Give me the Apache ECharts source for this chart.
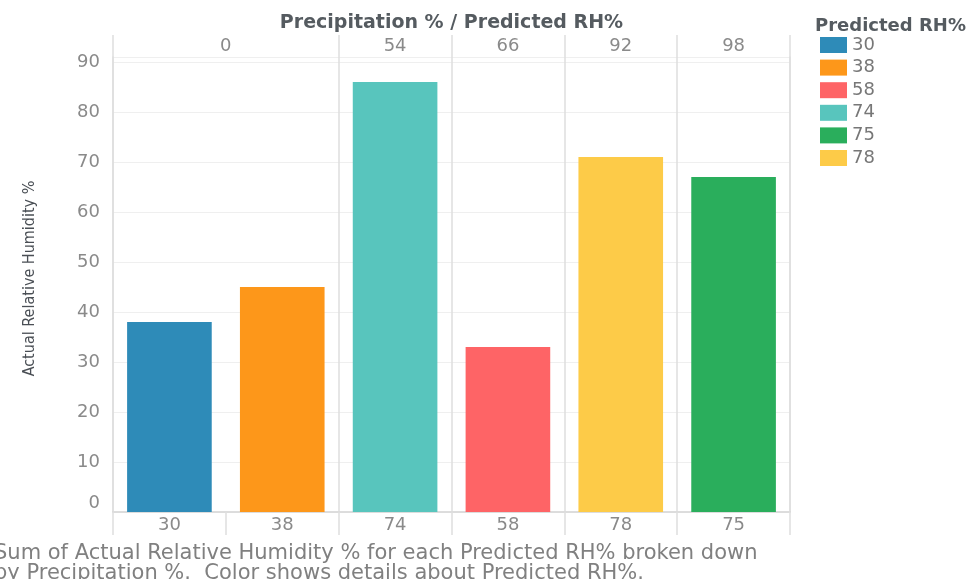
<!DOCTYPE html>
<html>
<head>
<meta charset="utf-8">
<script src="https://cdn.jsdelivr.net/npm/echarts@6/dist/echarts.min.js"></script>
<style>
  html, body { margin: 0; padding: 0; background: #fff; }
  #chart { width: 971px; height: 579px; }
</style>
</head>
<body>
<div id="chart"></div>
<script>
// Bars in draw order: predicted RH% (x categories), their precipitation group, and the actual RH%
const predictedRH = ['30', '38', '74', '58', '78', '75'];
const precipitation = ['0', '0', '54', '66', '92', '98'];
const actualRH = [38, 45, 86, 33, 71, 67];
// Legend order (sorted predicted RH%)
const legendRH = ['30', '38', '58', '74', '75', '78'];
// Y axis ticks
const yTicks = [0, 10, 20, 30, 40, 50, 60, 70, 80, 90];

const palette = {
  '30': '#2e8bb8',
  '38': '#fd971a',
  '58': '#fe6466',
  '74': '#58c5bd',
  '75': '#2aae5c',
  '78': '#fdcb48'
};

const FONT = 'DejaVu Sans, Verdana, sans-serif';
const GRID_LINE = '#dedede';
const LIGHT_LINE = '#efefef';
const LABEL_GRAY = '#8a8a8a';
const TITLE_GRAY = '#555b60';

// Group the bars by precipitation: label centres in category units and inner breaks
const groups = [];
precipitation.forEach(function (p, i) {
  const last = groups[groups.length - 1];
  if (last && last.label === p) { last.end = i + 1; }
  else { groups.push({ label: p, start: i, end: i + 1 }); }
});
const groupCentres = groups.map(g => (g.start + g.end) / 2);
const groupInnerBreaks = [];
groups.forEach(g => { for (let k = g.start + 1; k < g.end; k++) groupInnerBreaks.push(k); });
const isGroupEdge = function (index) { return groupInnerBreaks.indexOf(index) < 0; };

const series = legendRH.map(function (rh) {
  return {
    name: rh,
    type: 'bar',
    stack: 'bars',
    barCategoryGap: '25%',
    itemStyle: { color: palette[rh] },
    data: predictedRH.map((c, i) => (c === rh ? actualRH[i] : '-'))
  };
});

const chart = echarts.init(document.getElementById('chart'), null, { renderer: 'canvas' });
chart.setOption({
  animation: false,
  backgroundColor: '#ffffff',
  textStyle: { fontFamily: FONT },
  title: [
    {
      text: 'Predicted RH%',
      left: 810,
      top: 12,
      textStyle: { fontFamily: FONT, fontSize: 18, fontWeight: 'bold', color: TITLE_GRAY }
    },
    {
      text: 'Sum of Actual Relative Humidity % for each Predicted RH% broken down\nby Precipitation %.  Color shows details about Predicted RH%.',
      left: -6,
      top: 544,
      padding: 0,
      textStyle: { fontFamily: FONT, fontSize: 21, fontWeight: 'normal', color: '#808080', lineHeight: 20 }
    }
  ],
  legend: {
    data: legendRH,
    orient: 'vertical',
    left: 815,
    top: 31,
    icon: 'rect',
    itemWidth: 27,
    itemHeight: 16,
    itemGap: 4.6,
    textStyle: { fontFamily: FONT, fontSize: 18, color: '#777' },
    selectedMode: false
  },
  grid: { left: 113, right: 181, top: 57, bottom: 67, containLabel: false },
  xAxis: [
    {
      type: 'category',
      data: predictedRH,
      position: 'bottom',
      axisLine: { show: true, lineStyle: { color: '#d0d0d0', width: 1.5 } },
      axisTick: { show: true, length: 23, lineStyle: { color: GRID_LINE, width: 1.5 } },
      axisLabel: { fontFamily: FONT, fontSize: 18, color: LABEL_GRAY, margin: 4 },
      splitLine: { show: true, interval: isGroupEdge, lineStyle: { color: GRID_LINE, width: 1.5 } }
    },
    {
      // precipitation header: group labels centred over their bars
      type: 'value',
      position: 'top',
      min: 0,
      max: predictedRH.length,
      name: 'Precipitation % / Predicted RH%',
      nameLocation: 'middle',
      nameGap: 24,
      nameTextStyle: { fontFamily: FONT, fontSize: 19, fontWeight: 'bold', color: TITLE_GRAY },
      axisLine: { show: true, lineStyle: { color: GRID_LINE, width: 1.5 } },
      axisTick: { show: false },
      axisLabel: {
        show: true,
        customValues: groupCentres,
        margin: 2,
        fontFamily: FONT,
        fontSize: 18,
        color: LABEL_GRAY,
        formatter: function (v) {
          const idx = groupCentres.indexOf(v);
          return idx >= 0 ? groups[idx].label : '';
        }
      },
      splitLine: { show: false }
    },
    {
      // header separators between precipitation groups
      type: 'category',
      data: predictedRH,
      position: 'top',
      axisLine: { show: false },
      axisTick: { show: true, length: 22, interval: isGroupEdge, lineStyle: { color: GRID_LINE, width: 1.5 } },
      axisLabel: { show: false },
      splitLine: { show: false }
    }
  ],
  yAxis: [
    {
      type: 'value',
      min: 0,
      max: 91,
      interval: 10,
      name: 'Actual Relative Humidity %',
      nameLocation: 'middle',
      nameRotate: 90,
      nameGap: 75,
      nameTextStyle: { fontFamily: 'Liberation Sans Narrow, DejaVu Sans Condensed, sans-serif', fontSize: 16, color: '#4a4f55', padding: [0, 0, 0, 12] },
      axisLine: { show: true, lineStyle: { color: GRID_LINE, width: 1.5 } },
      axisTick: { show: false },
      axisLabel: {
        fontFamily: FONT,
        fontSize: 18,
        color: LABEL_GRAY,
        margin: 13,
        showMaxLabel: false,
        verticalAlignMinLabel: 'bottom',
        formatter: function (v) { return yTicks.indexOf(v) >= 0 ? String(v) : ''; }
      },
      splitLine: { show: true, lineStyle: { color: LIGHT_LINE, width: 1 } }
    },
    {
      type: 'value',
      position: 'right',
      min: 0,
      max: 91,
      axisLine: { show: true, lineStyle: { color: GRID_LINE, width: 1.5 } },
      axisTick: { show: false },
      axisLabel: { show: false },
      splitLine: { show: false }
    }
  ],
  series: series
});
</script>
</body>
</html>
